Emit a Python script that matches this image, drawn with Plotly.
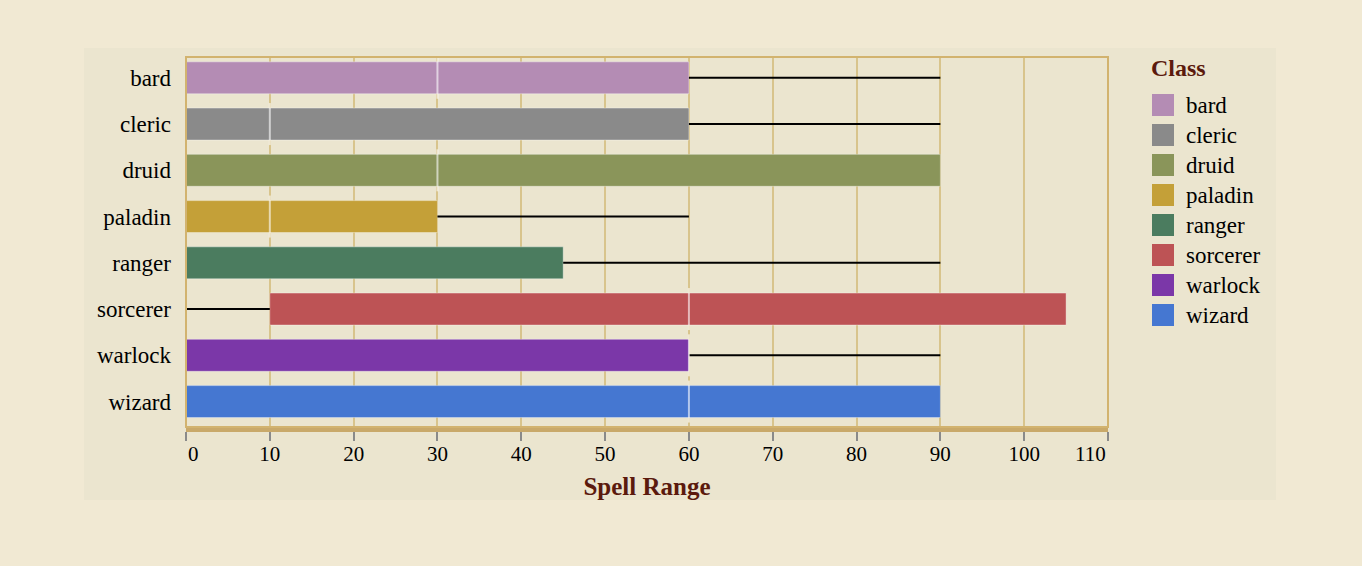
import plotly.graph_objects as go

# ---- data ----
classes = ["bard", "cleric", "druid", "paladin", "ranger", "sorcerer", "warlock", "wizard"]
range_min = [0, 0, 0, 0, 0, 0, 0, 0]
range_q1 = [0, 0, 0, 0, 0, 10, 0, 0]
range_median = [30, 10, 30, 10, 0, 60, 60, 60]
range_q3 = [60, 60, 90, 30, 45, 105, 60, 90]
range_max = [90, 90, 90, 60, 90, 105, 90, 90]
colors = ["#b48cb4", "#8a8a8a", "#8a955a", "#c4a038", "#4b7c5f", "#bd5355", "#7b37a8", "#4577d1"]
x_ticks = [0, 10, 20, 30, 40, 50, 60, 70, 80, 90, 100, 110]

FONT = "Liberation Serif, Times New Roman, serif"
DARK_RED = "#5b1a0d"

# plot area geometry (pixels) for paper-coordinate conversion
W, H = 1362, 566
L, R, T, B = 186, 1108, 57, 427
pw, ph = R - L, B - T


def px(x):
    return (x - L) / pw


def py(y):
    return (B - y) / ph


fig = go.Figure()

# boxes (Q1 -> Q3)
for c, q1, q3, col in zip(classes, range_q1, range_q3, colors):
    fig.add_trace(go.Bar(
        y=[c], x=[q3 - q1], base=[q1], orientation="h",
        marker=dict(color=col, line=dict(color="rgba(255,255,255,0.35)", width=1)),
        width=0.69, showlegend=False, hoverinfo="skip",
    ))

# whiskers
wx, wy = [], []
for c, mn, q1, q3, mx in zip(classes, range_min, range_q1, range_q3, range_max):
    if q1 > mn:
        wx += [mn, q1, None]
        wy += [c, c, None]
    if mx > q3:
        wx += [q3, mx, None]
        wy += [c, c, None]
fig.add_trace(go.Scatter(x=wx, y=wy, mode="lines", line=dict(color="black", width=2),
                         showlegend=False, hoverinfo="skip"))

# medians
fig.add_trace(go.Scatter(
    x=range_median, y=classes, mode="markers",
    marker=dict(symbol="line-ns", size=30, line=dict(color="rgba(255,255,255,0.6)", width=2)),
    showlegend=False, hoverinfo="skip",
))

shapes = []
# light panel behind the chart
shapes.append(dict(type="rect", xref="paper", yref="paper", layer="below",
                   x0=px(84), x1=px(1276), y0=py(500), y1=py(48),
                   fillcolor="#ebe5cf", line=dict(width=0)))
# plot frame
shapes.append(dict(type="rect", xref="paper", yref="paper", layer="above",
                   x0=0, x1=1, y0=0, y1=1, line=dict(color="#d2b36f", width=2)))

annotations = []
# manual legend
annotations.append(dict(xref="paper", yref="paper", x=px(1149), y=py(68), text="<b>Class</b>",
                        showarrow=False, xanchor="left", yanchor="middle",
                        font=dict(family=FONT, size=24, color=DARK_RED)))
for i, (c, col) in enumerate(zip(classes, colors)):
    yc = 105 + 30 * i
    shapes.append(dict(type="rect", xref="paper", yref="paper",
                       x0=px(1152), x1=px(1174), y0=py(yc + 11), y1=py(yc - 11),
                       fillcolor=col, line=dict(width=0)))
    annotations.append(dict(xref="paper", yref="paper", x=px(1184), y=py(yc), text=c,
                            showarrow=False, xanchor="left", yanchor="middle",
                            font=dict(family=FONT, size=23, color="black")))

# first / last x tick labels flush with the plot edges
for v, anchor in ((x_ticks[0], "left"), (x_ticks[-1], "right")):
    annotations.append(dict(xref="x", yref="paper", x=v, y=py(454), text=str(v),
                            showarrow=False, xanchor=anchor, yanchor="middle",
                            font=dict(family=FONT, size=21, color="black")))

tick_text = [""] + [str(v) for v in x_ticks[1:-1]] + [""]

fig.update_layout(
    width=W, height=H,
    margin=dict(l=L, r=W - R, t=T, b=H - B),
    paper_bgcolor="#f1e9d3",
    plot_bgcolor="#ebe5cf",
    barmode="overlay",
    font=dict(family=FONT, size=21, color="black"),
    shapes=shapes,
    annotations=annotations,
    xaxis=dict(
        range=[0, 110], tickvals=x_ticks, ticktext=tick_text,
        showgrid=True, gridcolor="#d8c48c", gridwidth=2,
        zeroline=False, showline=True, linecolor="#c9a96a", linewidth=5,
        ticks="outside", ticklen=9, tickwidth=2, tickcolor="#8a8a8a",
        ticklabelstandoff=-5,
        tickfont=dict(family=FONT, size=21, color="black"),
        title=dict(text="<b>Spell Range</b>", font=dict(family=FONT, size=25, color=DARK_RED), standoff=14),
    ),
    yaxis=dict(
        categoryorder="array", categoryarray=classes, range=[7.55, -0.45],
        showgrid=False, zeroline=False, ticks="", ticklabelstandoff=14,
        tickfont=dict(family=FONT, size=23, color="black"),
    ),
)

fig.write_html(
    "out.html",
    config={"displayModeBar": False},
    post_script="document.body.style.margin='0';document.body.style.background='#f1e9d3';",
)
